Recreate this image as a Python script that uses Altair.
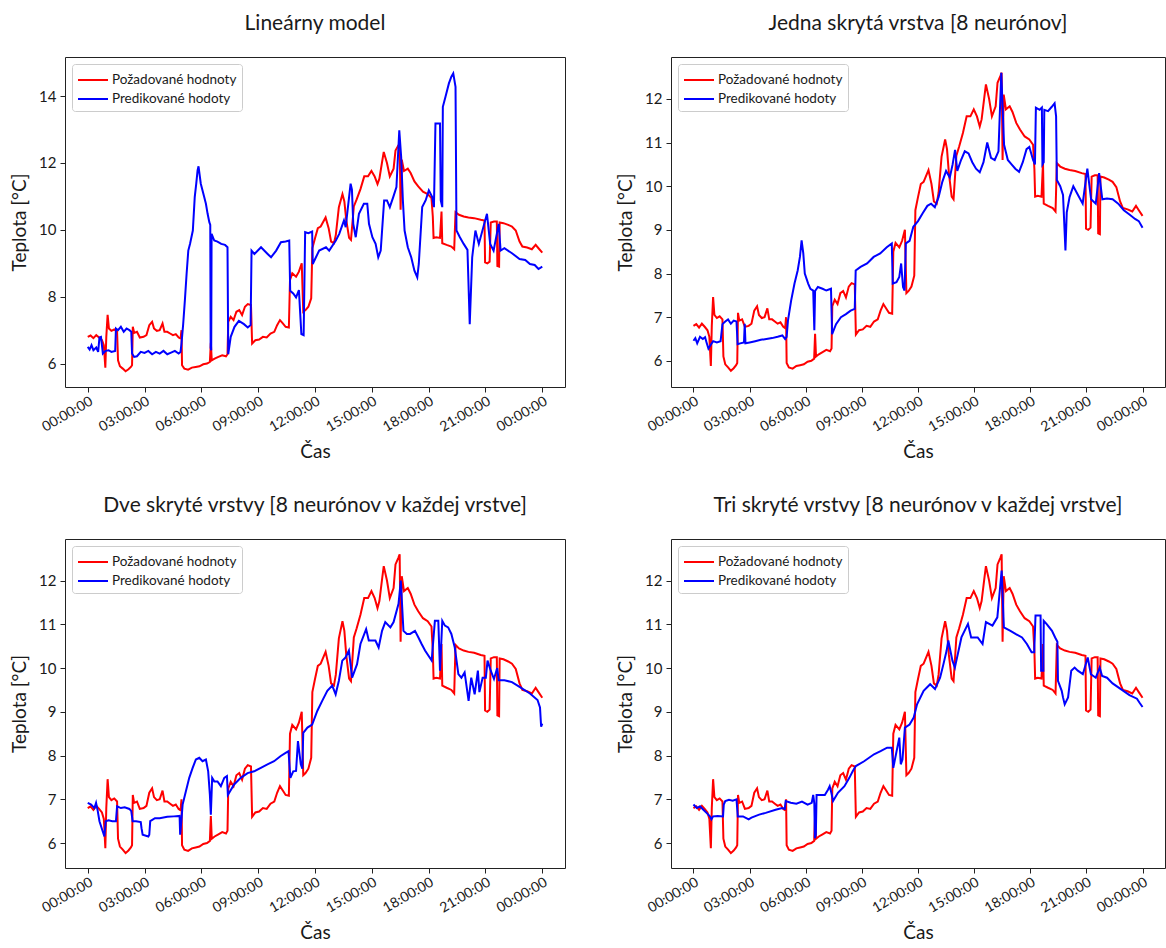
import altair as alt
import pandas as pd

ACTUAL_NAME = "Požadované hodnoty"
PRED_NAME = "Predikované hodoty"

PANEL_TITLES = [
    "Lineárny model",
    "Jedna skrytá vrstva [8 neurónov]",
    "Dve skryté vrstvy [8 neurónov v každej vrstve]",
    "Tri skryté vrstvy [8 neurónov v každej vrstve]",
]

HOUR_TICKS = [0, 3, 6, 9, 12, 15, 18, 21, 24]

# measured temperature (hour of day, °C)
ACTUAL = [
    (0.00, 6.80), (0.15, 6.84), (0.30, 6.76), (0.45, 6.85), (0.60, 6.78), (0.75, 6.70),
    (0.85, 6.55), (0.93, 5.88), (0.98, 6.80), (1.05, 7.46), (1.12, 7.05), (1.25, 6.98),
    (1.40, 7.02), (1.55, 6.95), (1.60, 6.10), (1.70, 5.92), (1.85, 5.85), (2.00, 5.77),
    (2.15, 5.83), (2.28, 5.90), (2.34, 5.95), (2.38, 7.10), (2.45, 6.92), (2.60, 6.95),
    (2.75, 6.78), (2.95, 6.80), (3.10, 6.85), (3.25, 7.15), (3.40, 7.25), (3.50, 7.05),
    (3.65, 6.98), (3.80, 7.00), (3.95, 7.20), (4.05, 6.95), (4.20, 6.95), (4.35, 6.90),
    (4.50, 6.85), (4.65, 6.88), (4.80, 6.78), (4.90, 6.75), (4.95, 7.00), (4.98, 5.95),
    (5.10, 5.85), (5.30, 5.82), (5.50, 5.88), (5.70, 5.90), (5.90, 5.92), (6.10, 5.98),
    (6.30, 6.00), (6.45, 6.05), (6.50, 6.62), (6.55, 6.10), (6.70, 6.15), (6.90, 6.20),
    (7.10, 6.25), (7.30, 6.22), (7.38, 6.28), (7.42, 7.25), (7.55, 7.40), (7.70, 7.30),
    (7.85, 7.55), (8.00, 7.60), (8.15, 7.45), (8.30, 7.70), (8.45, 7.78), (8.62, 7.75),
    (8.68, 6.60), (8.85, 6.70), (9.05, 6.72), (9.25, 6.80), (9.45, 6.78), (9.65, 6.90),
    (9.85, 6.95), (10.00, 7.15), (10.15, 7.30), (10.30, 7.20), (10.45, 7.10), (10.62, 7.08),
    (10.68, 8.50), (10.80, 8.70), (11.00, 8.60), (11.15, 8.75), (11.30, 9.00), (11.38, 7.55),
    (11.50, 7.60), (11.65, 7.70), (11.80, 7.95), (11.86, 9.45), (12.00, 9.75), (12.15, 10.05),
    (12.30, 10.10), (12.56, 10.37), (12.72, 10.05), (12.85, 9.65), (13.00, 9.60), (13.10, 9.85),
    (13.26, 10.68), (13.45, 11.07), (13.55, 10.85), (13.65, 10.30), (13.80, 9.76), (13.90, 9.70),
    (14.05, 10.70), (14.20, 10.91), (14.40, 11.22), (14.60, 11.60), (14.80, 11.60), (14.98, 11.76),
    (15.15, 11.60), (15.30, 11.37), (15.40, 11.53), (15.55, 12.06), (15.63, 12.33), (15.80, 12.00),
    (15.95, 11.60), (16.15, 11.83), (16.25, 12.37), (16.40, 12.52), (16.47, 12.60), (16.52, 10.60),
    (16.58, 12.10), (16.70, 11.76), (16.90, 11.83), (17.05, 11.70), (17.25, 11.45), (17.45, 11.30),
    (17.70, 11.14), (17.95, 11.07), (18.15, 10.95), (18.22, 10.40), (18.26, 9.76), (18.40, 9.78),
    (18.60, 9.76), (18.68, 10.55), (18.72, 9.60), (18.95, 9.55), (19.20, 9.50), (19.35, 9.42),
    (19.42, 10.53), (19.60, 10.45), (19.85, 10.40), (20.10, 10.37), (20.40, 10.35), (20.75, 10.30),
    (20.95, 10.28), (20.98, 9.03), (21.10, 9.00), (21.22, 9.05), (21.28, 10.22), (21.45, 10.25),
    (21.60, 10.25), (21.63, 8.92), (21.72, 8.90), (21.75, 10.22), (21.95, 10.20), (22.20, 10.15),
    (22.40, 10.10), (22.60, 9.98), (22.80, 9.65), (22.95, 9.50), (23.20, 9.47), (23.45, 9.42),
    (23.65, 9.55), (23.80, 9.45), (24.00, 9.32),
]

# predictions of the linear model
PRED_LINEAR = [
    (0.00, 6.50), (0.10, 6.42), (0.20, 6.55), (0.30, 6.40), (0.45, 6.48), (0.55, 6.35),
    (0.62, 6.78), (0.70, 6.80), (0.80, 6.30), (0.95, 6.38), (1.10, 6.40), (1.25, 6.35),
    (1.45, 6.38), (1.49, 7.05), (1.60, 7.00), (1.75, 7.10), (1.90, 6.95), (2.05, 7.05),
    (2.20, 7.00), (2.30, 6.95), (2.34, 6.30), (2.45, 6.20), (2.60, 6.22), (2.80, 6.35),
    (3.00, 6.32), (3.20, 6.38), (3.40, 6.28), (3.60, 6.35), (3.80, 6.30), (4.00, 6.38),
    (4.20, 6.28), (4.40, 6.33), (4.60, 6.38), (4.80, 6.30), (4.90, 6.35), (4.95, 6.60),
    (5.04, 7.18), (5.13, 7.90), (5.22, 8.68), (5.31, 9.38), (5.40, 9.58), (5.55, 9.98),
    (5.65, 10.98), (5.73, 11.38), (5.80, 11.78), (5.85, 11.90), (5.97, 11.38), (6.15, 10.98),
    (6.24, 10.78), (6.33, 10.48), (6.42, 10.23), (6.47, 10.15), (6.49, 6.48), (6.52, 6.40),
    (6.54, 9.88), (6.68, 9.68), (6.85, 9.65), (7.05, 9.58), (7.25, 9.55), (7.38, 9.48),
    (7.42, 6.28), (7.55, 6.80), (7.75, 7.10), (7.98, 7.28), (8.25, 7.18), (8.45, 7.08),
    (8.60, 7.15), (8.65, 9.38), (8.80, 9.28), (9.15, 9.48), (9.50, 9.28), (9.68, 9.18),
    (9.95, 9.38), (10.20, 9.63), (10.45, 9.65), (10.64, 9.68), (10.69, 8.18), (10.85, 8.10),
    (11.00, 7.98), (11.15, 8.20), (11.28, 6.88), (11.40, 6.85), (11.48, 9.93), (11.65, 9.90),
    (11.85, 9.95), (11.88, 8.98), (12.05, 9.18), (12.22, 9.38), (12.58, 9.48), (12.75, 9.38),
    (13.10, 9.68), (13.28, 9.88), (13.53, 10.28), (13.62, 10.08), (13.88, 11.38), (13.95, 11.20),
    (14.02, 10.18), (14.15, 9.78), (14.32, 10.48), (14.58, 10.78), (14.76, 10.78), (14.85, 10.18),
    (15.03, 9.78), (15.20, 9.58), (15.34, 9.18), (15.47, 9.38), (15.65, 10.88), (15.80, 10.88),
    (15.95, 10.68), (16.13, 10.98), (16.30, 11.28), (16.45, 12.98), (16.55, 12.18), (16.64, 10.88),
    (16.73, 9.98), (16.90, 9.48), (17.08, 9.18), (17.25, 8.78), (17.40, 8.58), (17.48, 8.98),
    (17.66, 10.68), (17.84, 10.88), (18.01, 11.18), (18.19, 10.98), (18.28, 10.68), (18.36, 13.18),
    (18.60, 13.18), (18.64, 10.88), (18.72, 10.68), (18.75, 13.68), (18.89, 13.98), (19.07, 14.38),
    (19.20, 14.58), (19.30, 14.68), (19.42, 14.28), (19.47, 9.98), (19.65, 9.78), (19.85, 9.58),
    (20.05, 9.40), (20.17, 7.18), (20.30, 9.18), (20.47, 9.98), (20.65, 9.58), (21.08, 10.48),
    (21.25, 9.58), (21.43, 9.38), (21.70, 10.18), (21.80, 9.38), (22.00, 9.45), (22.40, 9.30),
    (22.80, 9.13), (23.10, 9.10), (23.35, 8.98), (23.60, 8.95), (23.80, 8.83), (24.00, 8.90),
]

# predictions of the network with one hidden layer
PRED_ONE = [
    (0.00, 6.46), (0.10, 6.52), (0.20, 6.40), (0.35, 6.55), (0.50, 6.50), (0.62, 6.54),
    (0.70, 6.42), (0.80, 6.28), (0.90, 6.35), (1.05, 6.45), (1.25, 6.42), (1.45, 6.45),
    (1.55, 6.84), (1.70, 6.90), (1.85, 6.95), (2.00, 6.85), (2.15, 6.92), (2.30, 6.90),
    (2.36, 6.38), (2.50, 6.40), (2.70, 6.42), (2.74, 6.85), (2.78, 6.40), (3.00, 6.42),
    (3.30, 6.45), (3.60, 6.48), (3.90, 6.50), (4.20, 6.52), (4.50, 6.55), (4.75, 6.58),
    (4.90, 6.50), (4.98, 6.55), (5.05, 6.92), (5.22, 7.38), (5.40, 7.77), (5.57, 8.07),
    (5.69, 8.38), (5.78, 8.76), (5.87, 8.46), (5.95, 8.00), (6.13, 7.77), (6.25, 7.65),
    (6.40, 7.61), (6.46, 6.70), (6.50, 7.60), (6.65, 7.69), (6.90, 7.65), (7.10, 7.61),
    (7.35, 7.65), (7.41, 6.61), (7.62, 6.84), (7.88, 7.00), (8.15, 7.07), (8.40, 7.15),
    (8.62, 7.19), (8.67, 8.07), (8.93, 8.15), (9.28, 8.23), (9.63, 8.38), (9.98, 8.46),
    (10.33, 8.60), (10.60, 8.69), (10.65, 7.77), (10.85, 7.80), (11.00, 7.92), (11.10, 8.23),
    (11.20, 7.69), (11.28, 7.61), (11.35, 8.69), (11.55, 8.75), (11.75, 9.07), (12.00, 9.20),
    (12.25, 9.38), (12.50, 9.55), (12.70, 9.60), (12.90, 9.52), (13.10, 9.75), (13.30, 10.10),
    (13.50, 10.35), (13.70, 10.20), (13.85, 10.50), (13.98, 10.83), (14.10, 10.35), (14.30, 10.60),
    (14.50, 10.80), (14.70, 10.75), (14.90, 10.55), (15.10, 10.40), (15.30, 10.32), (15.50, 10.55),
    (15.70, 11.00), (15.90, 10.65), (16.10, 10.60), (16.30, 10.80), (16.45, 12.60), (16.60, 10.95),
    (16.80, 10.60), (17.00, 10.50), (17.20, 10.40), (17.40, 10.33), (17.60, 10.55), (17.80, 10.85),
    (17.95, 10.90), (18.15, 10.60), (18.25, 10.50), (18.30, 11.80), (18.50, 11.75), (18.62, 11.80),
    (18.65, 10.50), (18.72, 10.55), (18.75, 11.75), (18.95, 11.72), (19.15, 11.82), (19.30, 11.90),
    (19.38, 11.60), (19.42, 10.14), (19.60, 10.00), (19.75, 9.80), (19.88, 8.53), (19.95, 9.40),
    (20.10, 9.75), (20.30, 10.00), (20.55, 9.80), (20.80, 9.60), (21.05, 10.40), (21.25, 9.70),
    (21.50, 9.60), (21.68, 10.30), (21.85, 9.70), (22.10, 9.72), (22.40, 9.70), (22.70, 9.60),
    (23.00, 9.45), (23.30, 9.35), (23.60, 9.25), (23.80, 9.20), (24.00, 9.05),
]

# predictions of the network with two hidden layers
PRED_TWO = [
    (0.00, 6.92), (0.18, 6.88), (0.35, 6.80), (0.44, 6.92), (0.53, 6.73), (0.62, 6.50),
    (0.79, 6.27), (0.88, 6.15), (0.95, 6.50), (1.10, 6.52), (1.30, 6.50), (1.49, 6.50),
    (1.55, 6.84), (1.75, 6.80), (1.95, 6.82), (2.20, 6.78), (2.30, 6.73), (2.37, 6.50),
    (2.55, 6.50), (2.80, 6.48), (2.84, 6.34), (2.90, 6.19), (3.20, 6.15), (3.25, 6.19),
    (3.30, 6.50), (3.55, 6.57), (3.80, 6.57), (4.20, 6.60), (4.55, 6.61), (4.85, 6.62),
    (4.88, 6.19), (4.96, 6.60), (5.01, 6.88), (5.18, 7.18), (5.36, 7.49), (5.54, 7.72),
    (5.71, 7.91), (5.89, 7.95), (6.06, 7.87), (6.24, 7.91), (6.36, 7.64), (6.45, 7.10),
    (6.50, 6.65), (6.57, 7.49), (6.68, 7.41), (6.85, 7.41), (7.03, 7.30), (7.21, 7.49),
    (7.35, 7.53), (7.40, 7.10), (7.73, 7.34), (8.08, 7.49), (8.44, 7.60), (8.79, 7.64),
    (9.14, 7.72), (9.49, 7.80), (9.84, 7.87), (10.19, 7.99), (10.45, 8.06), (10.60, 8.10),
    (10.70, 7.49), (10.85, 7.64), (11.00, 7.65), (11.10, 8.33), (11.25, 7.80), (11.33, 7.70),
    (11.38, 8.52), (11.60, 8.64), (11.85, 8.71), (12.12, 9.02), (12.38, 9.25), (12.65, 9.48),
    (12.91, 9.60), (13.09, 9.40), (13.26, 9.71), (13.44, 10.17), (13.61, 10.24), (13.79, 10.40),
    (13.96, 9.78), (14.22, 10.09), (14.40, 10.55), (14.70, 10.89), (14.84, 10.63), (15.19, 10.63),
    (15.36, 10.47), (15.54, 10.85), (15.71, 11.05), (15.98, 10.93), (16.15, 11.05), (16.41, 11.47),
    (16.53, 12.00), (16.67, 10.85), (16.85, 10.78), (17.02, 10.78), (17.28, 10.85), (17.46, 10.70),
    (17.63, 10.55), (17.81, 10.40), (18.16, 10.17), (18.33, 11.08), (18.51, 11.08), (18.60, 9.94),
    (18.72, 11.08), (18.86, 10.97), (19.03, 10.93), (19.20, 10.78), (19.38, 10.47), (19.57, 9.86),
    (19.73, 9.78), (19.90, 9.90), (20.11, 9.25), (20.25, 9.78), (20.43, 9.40), (20.60, 9.94),
    (20.68, 9.45), (20.85, 9.78), (21.02, 9.78), (21.11, 10.17), (21.28, 9.94), (21.45, 9.75),
    (21.62, 10.00), (21.70, 9.72), (22.00, 9.72), (22.40, 9.68), (22.80, 9.57), (23.35, 9.42),
    (23.75, 9.27), (23.88, 9.10), (23.94, 8.66), (24.00, 8.73),
]

# predictions of the network with three hidden layers
PRED_THREE = [
    (0.00, 6.88), (0.18, 6.80), (0.35, 6.84), (0.53, 6.76), (0.70, 6.69), (0.88, 6.61),
    (0.96, 6.54), (1.05, 6.61), (1.30, 6.62), (1.58, 6.61), (1.62, 6.88), (1.70, 6.96),
    (1.90, 6.99), (2.10, 6.97), (2.30, 7.00), (2.37, 6.61), (2.65, 6.61), (2.95, 6.54),
    (3.10, 6.58), (3.51, 6.65), (3.86, 6.69), (4.39, 6.76), (4.74, 6.80), (4.88, 6.78),
    (4.93, 6.96), (5.20, 6.92), (5.50, 6.90), (5.80, 6.95), (6.10, 6.88), (6.32, 6.92),
    (6.40, 7.10), (6.46, 6.90), (6.49, 6.11), (6.54, 6.20), (6.58, 7.10), (6.80, 7.10),
    (7.02, 7.10), (7.19, 7.22), (7.28, 7.30), (7.37, 7.15), (7.46, 6.96), (7.72, 7.15),
    (8.07, 7.30), (8.33, 7.49), (8.51, 7.64), (8.68, 7.76), (9.12, 7.87), (9.65, 8.03),
    (10.00, 8.10), (10.35, 8.18), (10.60, 8.18), (10.68, 7.72), (11.00, 8.41), (11.08, 7.80),
    (11.17, 7.91), (11.30, 8.64), (11.55, 8.71), (11.77, 8.87), (11.95, 9.17), (12.30, 9.48),
    (12.65, 9.63), (12.91, 9.52), (13.18, 9.78), (13.36, 10.09), (13.53, 10.40), (13.62, 10.63),
    (13.84, 10.17), (13.97, 10.01), (14.32, 10.70), (14.67, 11.01), (14.84, 10.70), (15.19, 10.70),
    (15.45, 10.55), (15.63, 11.05), (15.98, 10.97), (16.24, 11.16), (16.47, 12.23), (16.59, 10.93),
    (16.94, 10.85), (17.21, 10.78), (17.56, 10.70), (17.82, 10.55), (18.07, 10.36), (18.21, 10.36),
    (18.28, 11.20), (18.55, 11.20), (18.58, 9.94), (18.70, 9.94), (18.72, 11.08), (18.89, 11.00),
    (19.16, 10.85), (19.33, 10.70), (19.45, 10.60), (19.48, 9.71), (19.68, 9.48), (19.75, 9.33),
    (19.84, 9.17), (20.02, 9.33), (20.19, 9.94), (20.37, 10.01), (20.54, 9.94), (20.81, 9.86),
    (21.07, 10.24), (21.24, 9.86), (21.50, 9.78), (21.71, 10.01), (21.84, 9.82), (22.10, 9.78),
    (22.40, 9.65), (22.90, 9.50), (23.30, 9.38), (23.70, 9.30), (23.85, 9.20), (24.00, 9.11),
]

FONT = "Lato"
INK = "#1a1a1a"
FRAME = "#222222"
# legend swatch: a horizontal stroke three symbol-radii long, starting at the entry's left edge
SWATCH = "M-1,0H2"


def series_frame(points, name):
    return pd.DataFrame({"hod": [p[0] for p in points],
                         "teplota": [p[1] for p in points],
                         "rad": name})


def panel(title, predicted, y_domain, y_ticks, width, height):
    color = alt.Color(
        "rad:N",
        scale=alt.Scale(domain=[ACTUAL_NAME, PRED_NAME], range=["#ff0000", "#0000ff"]),
        legend=alt.Legend(
            title=None, orient="top-left", offset=7, fillColor="white",
            strokeColor="#cccccc", cornerRadius=3, padding=5,
            symbolType=SWATCH, symbolStrokeWidth=2, symbolSize=400,
            labelFont=FONT, labelFontSize=13.5, labelColor=INK, rowPadding=1,
            labelOffset=13,
        ),
    )
    x = alt.X(
        "hod:Q",
        scale=alt.Scale(domain=[-1.2, 25.2], nice=False, zero=False),
        axis=alt.Axis(
            values=HOUR_TICKS, title="Čas", labelAngle=330,
            labelAlign="right", labelBaseline="top", labelPadding=2,
            labelOverlap=False, labelBound=False,
            labelExpr="(datum.value % 24 < 10 ? '0' : '') + (datum.value % 24) + ':00:00'",
            titlePadding=9, grid=False, domain=False,
            tickColor=FRAME, tickSize=5,
            labelFont=FONT, labelFontSize=14, labelColor=INK,
            titleFont=FONT, titleFontSize=19, titleFontWeight="normal", titleColor=INK,
        ),
    )
    y = alt.Y(
        "teplota:Q",
        scale=alt.Scale(domain=y_domain, nice=False, zero=False),
        axis=alt.Axis(
            values=y_ticks, title="Teplota [°C]", titlePadding=9, labelPadding=4,
            grid=False, domain=False, tickColor=FRAME, tickSize=5,
            labelFont=FONT, labelFontSize=15, labelColor=INK,
            titleFont=FONT, titleFontSize=19, titleFontWeight="normal", titleColor=INK,
        ),
    )
    actual = alt.Chart(series_frame(ACTUAL, ACTUAL_NAME)).mark_line(
        strokeWidth=2, clip=True).encode(x=x, y=y, color=color)
    pred = alt.Chart(series_frame(predicted, PRED_NAME)).mark_line(
        strokeWidth=2, clip=True).encode(x=x, y=y, color=color)
    return alt.layer(actual, pred).properties(
        width=width, height=height,
        title=alt.TitleParams(title, fontSize=21, font=FONT, fontWeight="normal",
                              color=INK, offset=23),
    )


p1 = panel(PANEL_TITLES[0], PRED_LINEAR, [5.30, 15.17], [6, 8, 10, 12, 14], 500, 330)
p2 = panel(PANEL_TITLES[1], PRED_ONE, [5.40, 12.96], [6, 7, 8, 9, 10, 11, 12], 494, 330)
p3 = panel(PANEL_TITLES[2], PRED_TWO, [5.43, 12.95], [6, 7, 8, 9, 10, 11, 12], 500, 329)
p4 = panel(PANEL_TITLES[3], PRED_THREE, [5.43, 12.95], [6, 7, 8, 9, 10, 11, 12], 494, 329)

indep = dict(x="independent", y="independent", color="independent")
top = alt.hconcat(p1, p2, spacing=50).resolve_scale(**indep).resolve_legend(color="independent")
bottom = alt.hconcat(p3, p4, spacing=50).resolve_scale(**indep).resolve_legend(color="independent")

chart = (
    alt.vconcat(top, bottom, spacing=31)
    .resolve_scale(**indep)
    .resolve_legend(color="independent")
    .properties(padding={"left": 10, "top": 12, "right": 0, "bottom": 0},
                background="white")
    .configure_view(stroke=FRAME, strokeWidth=1)
)

chart.save("out.html", embed_options={"renderer": "svg", "actions": False})
